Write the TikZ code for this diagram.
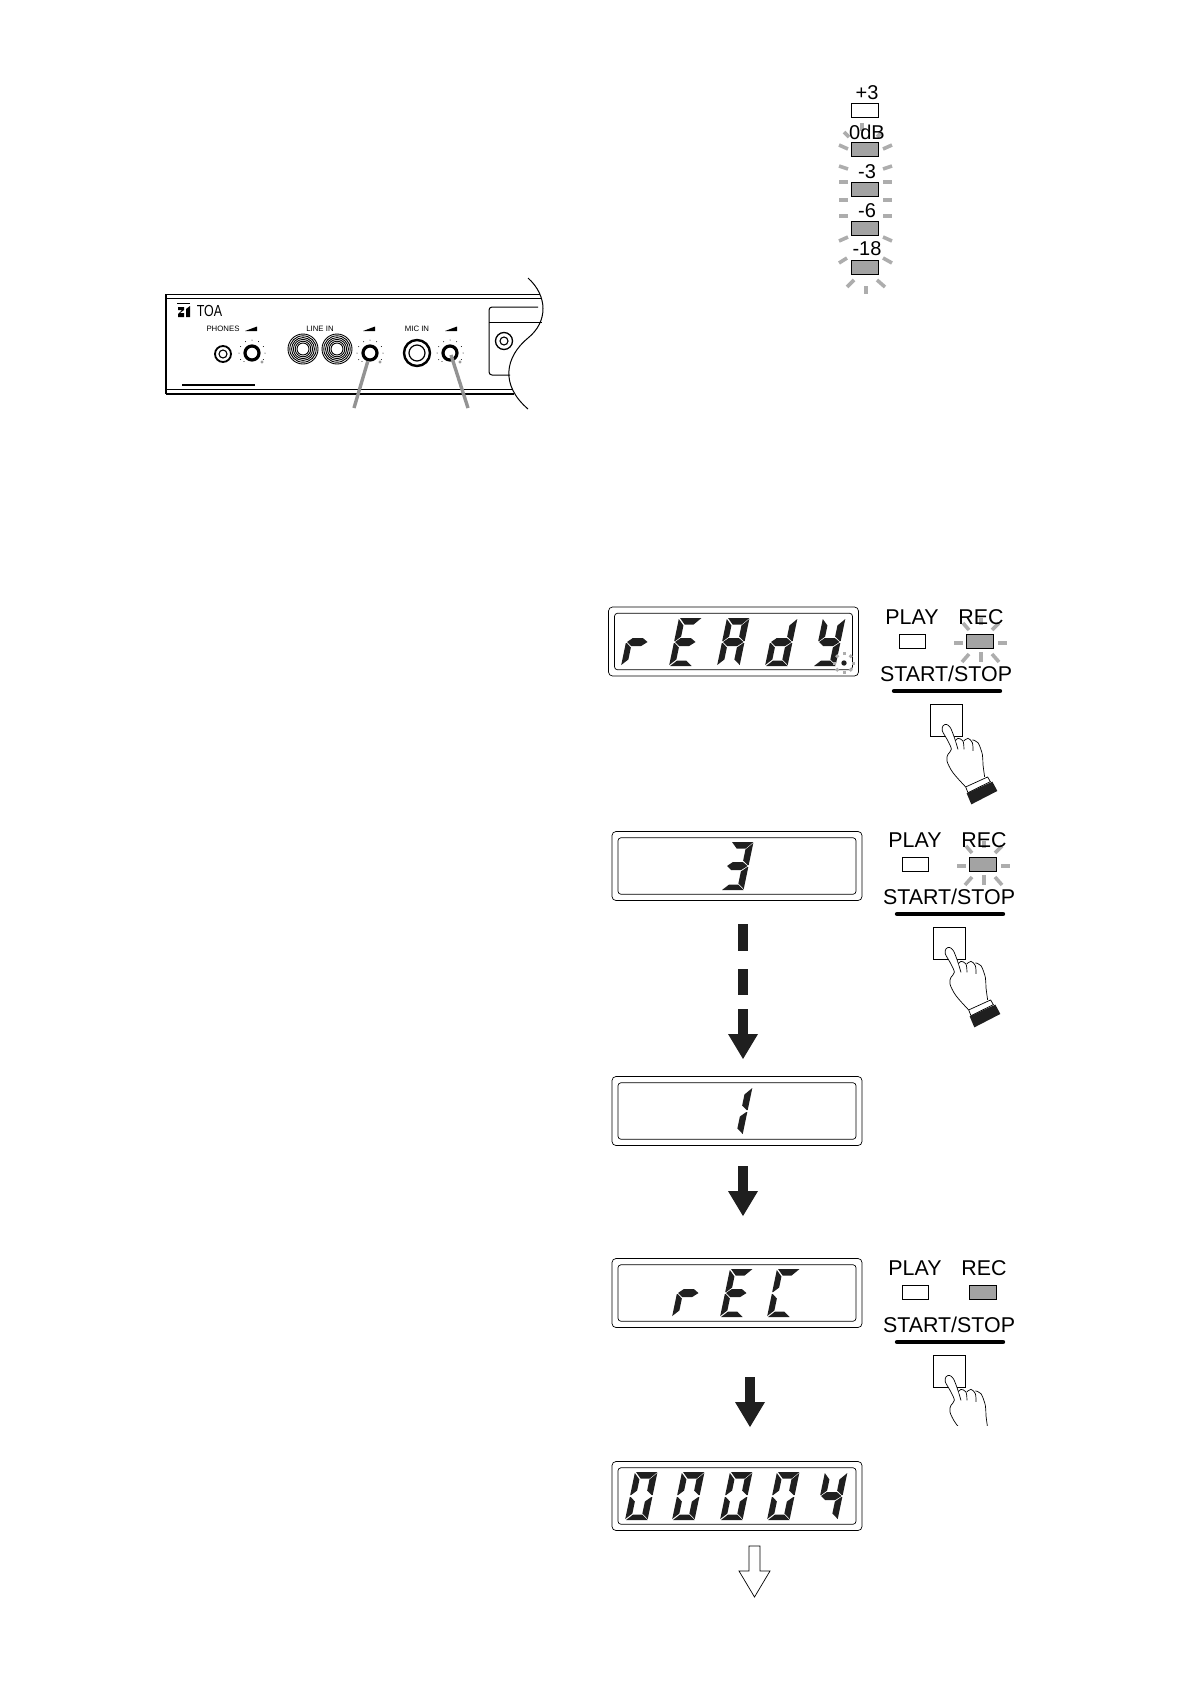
\documentclass[tikz,border=0pt]{standalone}
\usepackage{fontspec}
\setmainfont{Liberation Sans}
\usetikzlibrary{arrows.meta,positioning}

\definecolor{ledgray}{gray}{0.64}
\definecolor{flashgray}{gray}{0.68}
\definecolor{inkblack}{gray}{0.12}

\tikzset{
    panelbig/.style={font=\fontsize{21.4}{25}\selectfont,inner sep=0pt},
    meterlbl/.style={font=\fontsize{20}{24}\selectfont,inner sep=0pt},
    smalllbl/.style={font=\fontsize{7.8}{9}\selectfont,inner sep=0pt},
    tinylbl/.style={font=\fontsize{6}{7}\selectfont,inner sep=0pt},
    led/.style={draw,minimum width=26.5pt,minimum height=14pt,inner sep=0pt,line width=.7pt},
    ledon/.style={led,fill=ledgray},
    flashtick/.style={draw=flashgray,line width=3.6pt},
    lcdouter/.style={draw,rounded corners=4pt,line width=.7pt,minimum width=250pt,minimum height=69pt,inner sep=0pt},
    lcdinner/.style={draw,rounded corners=3pt,line width=.7pt,minimum width=238pt,minimum height=56.5pt,inner sep=0pt},
    lcdseg/.style={fill=inkblack},
    blockarrow/.style={draw=inkblack,line width=10pt,-{Triangle[length=25pt,width=30pt,line width=0pt]}},
    knobnode/.style={circle,draw,line width=3.2pt,minimum size=14pt,inner sep=0pt},
    leader/.style={draw=flashgray!85!black,line width=3.4pt},
    casing/.style={line width=1pt}
}

% segments of one digit, top left corner at the origin
\newcommand{\lcda}{\fill[lcdseg] (1,0) -- (22.5,0) -- (16,6.5) -- (7,6.5) -- cycle;}
\newcommand{\lcdb}{\fill[lcdseg] (22.5,1) -- (22.5,23) -- (21.5,23) -- (16,18.5) -- (16,7.5) -- cycle;}
\newcommand{\lcdc}{\fill[lcdseg] (22.5,25) -- (22.5,47) -- (16,41.5) -- (16,29.5) -- (21.5,25) -- cycle;}
\newcommand{\lcdd}{\fill[lcdseg] (1,48) -- (7,42.5) -- (16,42.5) -- (22.5,48) -- cycle;}
\newcommand{\lcde}{\fill[lcdseg] (0,25) -- (1,25) -- (6,29.5) -- (6,41.5) -- (0,47) -- cycle;}
\newcommand{\lcdf}{\fill[lcdseg] (0,1) -- (6,7.5) -- (6,18.5) -- (1,23) -- (0,23) -- cycle;}
\newcommand{\lcdg}{\fill[lcdseg] (1,24) -- (6,20) -- (16,20) -- (21.5,24) -- (16,28) -- (6,28) -- cycle;}

\newcommand{\lcddigit}[3]{
    \begin{scope}[shift={(#1,#2)},xslant=0.208]
        \foreach \s in {#3} {\csname lcd\s\endcsname}
    \end{scope}
}

\newcommand{\lcdframe}[3]{
    \node[lcdouter] (#1outer) at (#2,#3) {};
    \node[lcdinner] (#1inner) at (#2,#3) {};
}

\newcommand{\knob}[3]{
    \foreach \a in {150,180,...,390} {\fill ([shift={(\a:13)}]#2,#3) circle[radius=.5];}
    \node[knobnode] (#1) at (#2,#3) {};
    \node[tinylbl] (#1minus) at ([shift={(-8,10)}]#1.center) {-};
    \node[tinylbl] (#1plus) at ([shift={(10,10)}]#1.center) {+};
}

\newcommand{\recflash}{
    \foreach \xa/\ya/\xb/\yb in {-17/-18/-11/-11,1/-23/1/-16,19/-18/12/-11,-26/2/-17/2,18/2/27/2,-18/21/-11/13,1/11/1/21,12/13/19/21}
        {\draw[flashtick] ([shift={(\xa,\ya)}]recled.center) -- ([shift={(\xb,\yb)}]recled.center);}
}

\newcommand{\handopen}{
    \filldraw[fill=white,line width=.7pt,line join=round] plot[smooth,tension=.55] coordinates {(36,83.3) (23.3,69) (17.3,57.3) (18.3,50.7) (21.7,45.7) (18.3,37.3) (12.7,27.3) (13.3,22.3) (16.7,20.7) (20.7,24) (25,34.7) (28.3,45.7)};
    \filldraw[fill=white,line width=.7pt] plot[smooth,tension=.6] coordinates {(25.7,37.3) (28.3,34.7) (33.3,37.3) (34.3,45.7)};
    \filldraw[fill=white,line width=.7pt] plot[smooth,tension=.6] coordinates {(34.3,37.3) (38.3,34.7) (42.7,39) (43.3,47.3)};
    \draw[line width=.7pt] plot[smooth,tension=.6] coordinates {(42.7,36.3) (48.3,39) (52.7,50.7) (53.3,60.7) (55,73.3)};
}

\newcommand{\handfull}{
    \begin{scope}[shift={(button.north west)}]
        \handopen
        \draw[line width=.7pt] (36,83.3) -- (58,73.3) -- (60.7,78) -- (38.3,89) -- cycle;
        \fill[inkblack] (37,89.7) -- (62.7,78) -- (67.7,87.3) -- (41.7,100.7) -- cycle;
    \end{scope}
}

\newcommand{\handcut}{
    \begin{scope}[shift={(button.north west)}]
        \clip (-2,0) rectangle (70,70.7);
        \handopen
    \end{scope}
}

% #1 name, #2 #3 offset, #4 flash of the lamp, #5 hand
\newcommand{\recpanel}[5]{
    \begin{scope}[shift={(#2,#3)},name prefix=#1]
        \node[ledon] (recled) at (980,641) {};
        #4
        \node[panelbig] (playlbl) at (912,617) {PLAY};
        \node[panelbig] (reclbl) at (981,617) {REC};
        \node[led] (playled) at (912.5,641) {};
        \node[panelbig] (startlbl) at (946,674) {START/STOP};
        \draw[line width=4.4pt,line cap=round] (894,691) -- (1000,691);
        \node[draw,line width=.7pt,minimum size=32pt,inner sep=0pt] (button) at (946,720) {};
        #5
    \end{scope}
}

\begin{document}
\begin{tikzpicture}[x=1pt,y=-1pt]
    \useasboundingbox (0,0) rectangle (1191,1684);

    % front panel
    \draw[casing] (166,294) -- (540,294);
    \draw[casing] (166,298) -- (542,298);
    \draw[casing] (166,389) -- (512,389);
    \draw[line width=1.4pt] (166,394) -- (514,394);
    \draw[line width=1.4pt] (166,294) -- (166,394);
    \draw[casing] (528,278) .. controls (548,296) and (548,322) .. (528,338) .. controls (505,357) and (500,385) .. (528,409);
    \draw[line width=1.6pt] (182,385) -- (255,385);

    \fill (177,302.5) rectangle (190,303.5);
    \fill (178,307) -- (184,307) -- (184,310) -- (180,313) -- (184,313) -- (184,317) -- (178,317) -- (178,314) -- (182,310) -- (178,310) -- cycle;
    \fill (186,309) -- (190,306) -- (190,317) -- (186,317) -- cycle;
    \node[font=\fontsize{16}{19}\selectfont,inner sep=0pt,xscale=.78] (brand) at (209.5,310.5) {TOA};

    \node[smalllbl] (phoneslbl) at (223,329) {PHONES};
    \node[smalllbl] (lineinlbl) at (320,329) {LINE IN};
    \node[smalllbl] (micinlbl) at (417,329) {MIC IN};
    \foreach \wx in {245,363,445} {\fill (\wx,331) -- (\wx+12,331) -- (\wx+12,326.5) -- cycle;}

    \draw[line width=1.8pt] (223,354) circle[radius=8];
    \draw[line width=1.1pt] (223,354) circle[radius=4];
    \knob{phonesknob}{252}{353}
    \foreach \r in {6,7.8,9.6,11.4,13.2,15} {\draw[line width=.9pt] (303,349) circle[radius=\r]; \draw[line width=.9pt] (337,349) circle[radius=\r];}
    \knob{lineknob}{370}{353}
    \draw[line width=2.4pt] (417,353) circle[radius=13];
    \draw[line width=1.2pt] (417,353) circle[radius=8];
    \knob{micknob}{450}{353}

    \coordinate (linefoot) at (354,408);
    \coordinate (micfoot) at (468,408);
    \draw[leader] (linefoot) -- (lineknob.-105);
    \draw[leader] (micfoot) -- ([shift={(1,2)}]micknob.center);

    \draw[casing,rounded corners=3pt] (538,307) -- (489,307) -- (489,375) -- (510,375);
    \draw[casing] (489,322) -- (542,322);
    \draw[line width=1.3pt] (504,341) circle[radius=8.5];
    \draw[line width=1.1pt] (504,341) circle[radius=4];

    % level meter
    \foreach \xa/\ya/\xb/\yb in {839/145/848/149,839/166/848/169,839/182/848/182,839/200/848/200,839/216/848/216,839/241/848/237,839/263/847/258,
        883/149/892/145,883/169/892/166,883/182/892/182,883/200/892/200,883/216/892/216,883/237/892/241,883/258/892/263,
        844/132/849/137,882/132/877/137,862/123/862/131,847/287/854/280,866/286/866/294,885/287/877/280}
        {\draw[flashtick] (\xa,\ya) -- (\xb,\yb);}
    \node[led] (ledplus) at (865,110.5) {};
    \node[ledon] (ledzero) at (865,149) {};
    \node[ledon] (ledthree) at (865,189) {};
    \node[ledon] (ledsix) at (865,228.5) {};
    \node[ledon] (ledeighteen) at (865,267) {};
    \node[meterlbl] (lblplus) at (867,93) {+3};
    \node[meterlbl] (lblzero) at (867,132) {0dB};
    \node[meterlbl] (lblthree) at (867,172) {-3};
    \node[meterlbl] (lblsix) at (867,211) {-6};
    \node[meterlbl] (lbleighteen) at (867,249) {-18};

    % display
    \lcdframe{ready}{733.5}{641.5}
    \lcddigit{631}{618}{e,g}
    \lcddigit{679}{618}{a,f,g,e,d}
    \lcddigit{727}{618}{a,b,c,e,f,g}
    \lcddigit{775}{618}{b,c,d,e,g}
    \lcddigit{823}{618}{b,c,d,f,g}
    \coordinate (readydot) at (844,663);
    \foreach \a in {0,45,...,315} {\draw[draw=flashgray,line width=3pt] ([shift={(\a:8)}]readydot) -- ([shift={(\a:11)}]readydot);}
    \fill[inkblack] (readydot) circle[radius=2.7];

    \lcdframe{count}{737}{866}
    \lcddigit{731}{842}{a,b,g,c,d}

    \coordinate (dashtop) at (743,924);
    \coordinate (dashtip) at (743,1059);
    \draw[blockarrow,dash pattern=on 27pt off 18pt on 26pt off 14pt] (dashtop) -- (dashtip);

    \lcdframe{last}{737}{1111}
    \lcddigit{730}{1087}{b,c}
    \coordinate (lasttop) at (743,1166);
    \coordinate (lasttip) at (743,1216);
    \draw[blockarrow] (lasttop) -- (lasttip);

    \lcdframe{rec}{737}{1293}
    \lcddigit{682}{1269}{e,g}
    \lcddigit{730}{1269}{a,f,g,e,d}
    \lcddigit{777}{1269}{a,f,e,d}
    \coordinate (rectop) at (750,1377);
    \coordinate (rectip) at (750,1427);
    \draw[blockarrow] (rectop) -- (rectip);

    \lcdframe{time}{737}{1496}
    \foreach \dx in {635,682,730,777} {\lcddigit{\dx}{1472}{a,b,c,d,e,f}}
    \lcddigit{825}{1472}{f,b,g,c}
    \coordinate (nexttop) at (749,1546);
    \draw[line width=.7pt,line join=miter] (nexttop) -- ++(11,0) -- ++(0,25) -- ++(10,0) -- (754.5,1597) -- (739,1571) -- ++(10,0) -- cycle;

    % buttons
    \recpanel{first}{0}{0}{\recflash}{\handfull}
    \recpanel{second}{3}{223}{\recflash}{\handfull}
    \recpanel{third}{3}{651}{}{\handcut}
\end{tikzpicture}
\end{document}
